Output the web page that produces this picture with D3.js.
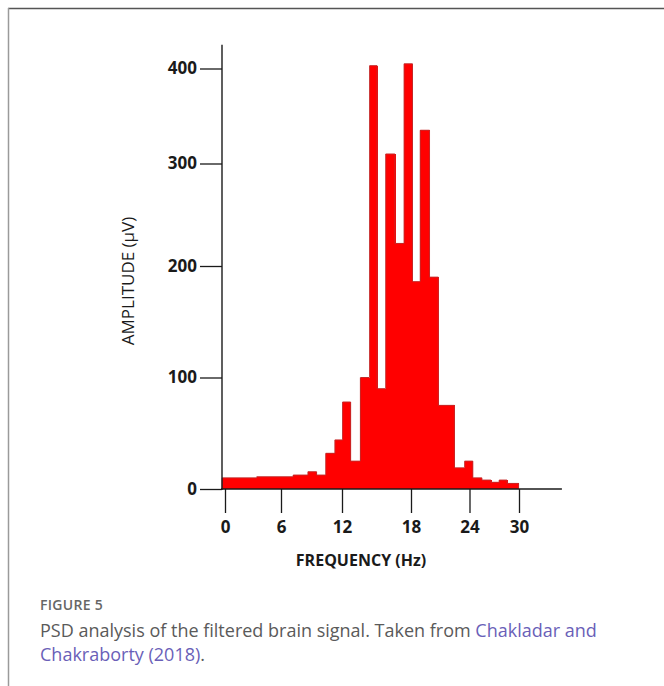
<!DOCTYPE html>
<meta charset="utf-8">
<head>
<script src="https://d3js.org/d3.v7.min.js"></script>
<style>
body { margin: 0; background: #fff; }
.tick text { font-family: "Open Sans", sans-serif; font-weight: 700; font-size: 17px; fill: #1a1a1a; }
.tick line { stroke: #1a1a1a; stroke-width: 1.3; }
</style>
</head>
<body>
<script>
// frequency bin edges (Hz) and amplitude of each bin (µV)
var binEdges = [-0.3, 3.4, 7.2, 8.65, 9.5, 10.4, 11.3, 12.05, 12.75, 13.6, 14.4, 15.05, 15.8,
                16.6, 17.4, 18.15, 18.95, 19.9, 20.8, 22.45, 23.5, 24.4, 25.5, 26.6, 27.6, 28.55, 29.95];
var amplitude = [10, 11, 12.5, 15.5, 12.5, 32, 44, 78, 25, 100, 403, 90, 310,
                 222, 405, 186, 335, 190, 75, 19, 25, 10, 8, 6, 8, 5];
var xTicks = [0, 6, 12, 18, 24, 30];
var yTicks = [0, 100, 200, 300, 400];

var bins = amplitude.map(function(v, i) {
  return {x0: binEdges[i], x1: binEdges[i + 1], v: v};
});

var svg = d3.select("body").append("svg")
    .attr("width", 664)
    .attr("height", 686);

// frame of the figure panel
svg.append("line").attr("x1", 8).attr("x2", 664).attr("y1", 8.5).attr("y2", 8.5)
    .attr("stroke", "#555").attr("stroke-width", 1.5);
svg.append("line").attr("x1", 8.5).attr("x2", 8.5).attr("y1", 8).attr("y2", 686)
    .attr("stroke", "#9a9a9a").attr("stroke-width", 1.5);

// the printed axes are not evenly spaced, so use piecewise scales
var x = d3.scaleLinear()
    .domain(xTicks)
    .range([225, 281, 342, 411, 469.5, 519]);

var y = d3.scaleLinear()
    .domain(yTicks)
    .range([489, 377.5, 266, 163.5, 68.5]);

svg.append("g")
    .attr("shape-rendering", "crispEdges")
  .selectAll("rect")
  .data(bins)
  .enter().append("rect")
    .attr("x", function(d) { return x(d.x0); })
    .attr("width", function(d) { return x(d.x1) - x(d.x0) + 0.6; })
    .attr("y", function(d) { return y(d.v); })
    .attr("height", function(d) { return y(0) - y(d.v); })
    .attr("fill", "#ff0000");

// darker outline along the stepped top
var pts = [[bins[0].x0, 0]];
bins.forEach(function(d) { pts.push([d.x0, d.v]); pts.push([d.x1, d.v]); });
pts.push([bins[bins.length - 1].x1, 0]);

svg.append("path")
    .datum(pts)
    .attr("fill", "none")
    .attr("stroke", "#c62828")
    .attr("stroke-width", 1)
    .attr("d", d3.line().x(function(d) { return x(d[0]); }).y(function(d) { return y(d[1]); }));

// axes
var yAxis = svg.append("g")
    .attr("transform", "translate(222,0)")
    .call(d3.axisLeft(y).tickValues(yTicks).tickSize(22).tickPadding(3));
yAxis.select(".domain").remove();

var xAxis = svg.append("g")
    .attr("transform", "translate(0," + y(0) + ")")
    .call(d3.axisBottom(x).tickValues(xTicks).tickSize(24).tickPadding(8));
xAxis.select(".domain").remove();

svg.append("line")
    .attr("x1", 222).attr("x2", 222)
    .attr("y1", y(0) + 1).attr("y2", y(425))
    .attr("stroke", "#1a1a1a").attr("stroke-width", 1.4);
svg.append("line")
    .attr("x1", 221).attr("x2", x(35.2))
    .attr("y1", y(0)).attr("y2", y(0))
    .attr("stroke", "#1a1a1a").attr("stroke-width", 1.4);

svg.append("text")
    .attr("x", 361)
    .attr("y", 566)
    .attr("text-anchor", "middle")
    .style("font-family", "Open Sans, sans-serif")
    .style("font-weight", 700)
    .style("font-size", "16px")
    .style("fill", "#1a1a1a")
    .text("FREQUENCY (Hz)");

svg.append("text")
    .attr("text-anchor", "middle")
    .attr("transform", "translate(134,281)rotate(-90)")
    .style("font-family", "Open Sans, sans-serif")
    .style("font-size", "17px")
    .style("fill", "#1a1a1a")
    .text("AMPLITUDE (µV)");

// caption
svg.append("text")
    .attr("x", 40).attr("y", 610)
    .style("font-family", "Open Sans, sans-serif")
    .style("font-weight", 600)
    .style("font-size", "14px")
    .style("letter-spacing", "0.3px")
    .style("fill", "#666")
    .text("FIGURE 5");

var cap1 = svg.append("text")
    .attr("x", 40).attr("y", 637)
    .style("font-family", "Open Sans, sans-serif")
    .style("font-size", "18px")
    .style("fill", "#5a5a5a");
cap1.append("tspan").text("PSD analysis of the filtered brain signal. Taken from ");
cap1.append("tspan").style("fill", "#6a5fb8").text("Chakladar and");

var cap2 = svg.append("text")
    .attr("x", 40).attr("y", 661)
    .style("font-family", "Open Sans, sans-serif")
    .style("font-size", "18px")
    .style("fill", "#5a5a5a");
cap2.append("tspan").style("fill", "#6a5fb8").text("Chakraborty (2018)");
cap2.append("tspan").text(".");
</script>
</body>
</html>
